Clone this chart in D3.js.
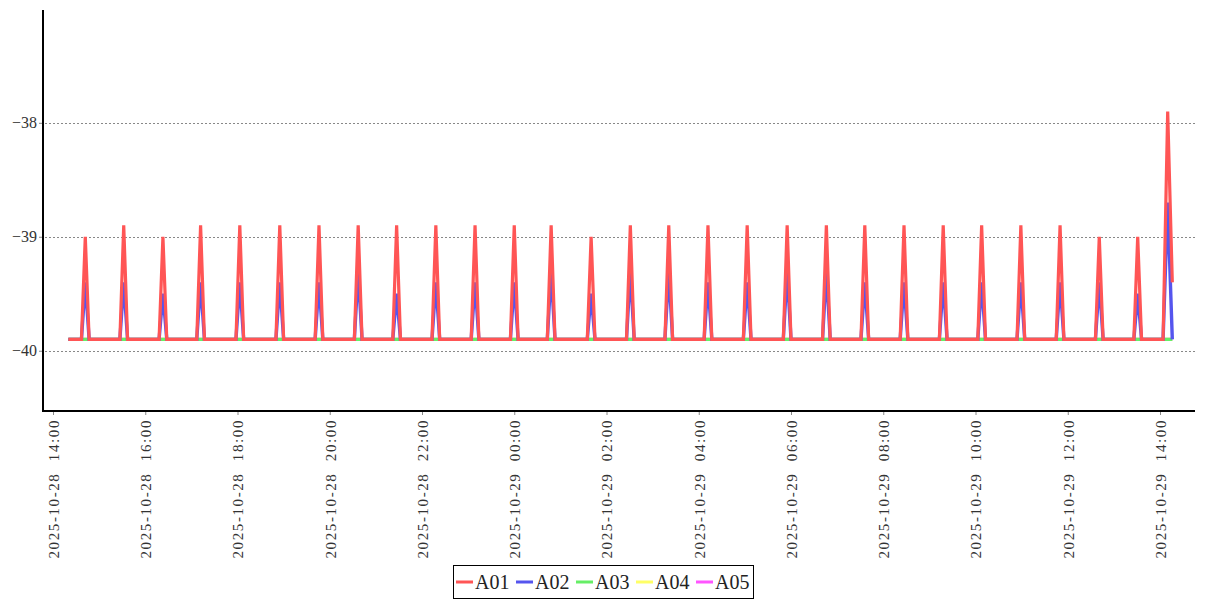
<!DOCTYPE html>
<html>
<head>
<meta charset="utf-8">
<script src="https://cdn.jsdelivr.net/npm/d3@7"></script>
<style>
    body { margin: 0; background: #fff; }
    svg { display: block; }
    .serif { font-family: "Liberation Serif", "DejaVu Serif", serif; }
</style>
</head>
<body>
<div id="chart"></div>
<script>

// sample times (one spike every ~50 min, base / peak / base)
const times = [
    "2025-10-28 14:20",
    "2025-10-28 14:37", "2025-10-28 14:42", "2025-10-28 14:47",
    "2025-10-28 15:27", "2025-10-28 15:32", "2025-10-28 15:37",
    "2025-10-28 16:18", "2025-10-28 16:23", "2025-10-28 16:28",
    "2025-10-28 17:07", "2025-10-28 17:12", "2025-10-28 17:17",
    "2025-10-28 17:58", "2025-10-28 18:03", "2025-10-28 18:08",
    "2025-10-28 18:50", "2025-10-28 18:55", "2025-10-28 19:00",
    "2025-10-28 19:41", "2025-10-28 19:46", "2025-10-28 19:51",
    "2025-10-28 20:32", "2025-10-28 20:37", "2025-10-28 20:42",
    "2025-10-28 21:22", "2025-10-28 21:27", "2025-10-28 21:32",
    "2025-10-28 22:13", "2025-10-28 22:18", "2025-10-28 22:23",
    "2025-10-28 23:04", "2025-10-28 23:09", "2025-10-28 23:14",
    "2025-10-28 23:55", "2025-10-29 00:00", "2025-10-29 00:05",
    "2025-10-29 00:43", "2025-10-29 00:48", "2025-10-29 00:53",
    "2025-10-29 01:35", "2025-10-29 01:40", "2025-10-29 01:45",
    "2025-10-29 02:26", "2025-10-29 02:31", "2025-10-29 02:36",
    "2025-10-29 03:16", "2025-10-29 03:21", "2025-10-29 03:26",
    "2025-10-29 04:07", "2025-10-29 04:12", "2025-10-29 04:17",
    "2025-10-29 04:58", "2025-10-29 05:03", "2025-10-29 05:08",
    "2025-10-29 05:50", "2025-10-29 05:55", "2025-10-29 06:00",
    "2025-10-29 06:41", "2025-10-29 06:46", "2025-10-29 06:51",
    "2025-10-29 07:31", "2025-10-29 07:36", "2025-10-29 07:41",
    "2025-10-29 08:22", "2025-10-29 08:27", "2025-10-29 08:32",
    "2025-10-29 09:13", "2025-10-29 09:18", "2025-10-29 09:23",
    "2025-10-29 10:03", "2025-10-29 10:08", "2025-10-29 10:13",
    "2025-10-29 10:54", "2025-10-29 10:59", "2025-10-29 11:04",
    "2025-10-29 11:45", "2025-10-29 11:50", "2025-10-29 11:55",
    "2025-10-29 12:36", "2025-10-29 12:41", "2025-10-29 12:46",
    "2025-10-29 13:26", "2025-10-29 13:31", "2025-10-29 13:36",
    "2025-10-29 14:04", "2025-10-29 14:10", "2025-10-29 14:16"
]

const A01 = [
    -39.9,
    -39.9, -39.0, -39.9,
    -39.9, -38.9, -39.9,
    -39.9, -39.0, -39.9,
    -39.9, -38.9, -39.9,
    -39.9, -38.9, -39.9,
    -39.9, -38.9, -39.9,
    -39.9, -38.9, -39.9,
    -39.9, -38.9, -39.9,
    -39.9, -38.9, -39.9,
    -39.9, -38.9, -39.9,
    -39.9, -38.9, -39.9,
    -39.9, -38.9, -39.9,
    -39.9, -38.9, -39.9,
    -39.9, -39.0, -39.9,
    -39.9, -38.9, -39.9,
    -39.9, -38.9, -39.9,
    -39.9, -38.9, -39.9,
    -39.9, -38.9, -39.9,
    -39.9, -38.9, -39.9,
    -39.9, -38.9, -39.9,
    -39.9, -38.9, -39.9,
    -39.9, -38.9, -39.9,
    -39.9, -38.9, -39.9,
    -39.9, -38.9, -39.9,
    -39.9, -38.9, -39.9,
    -39.9, -38.9, -39.9,
    -39.9, -39.0, -39.9,
    -39.9, -39.0, -39.9,
    -39.9, -37.9, -39.4
]

const A02 = [
    -39.9,
    -39.9, -39.4, -39.9,
    -39.9, -39.4, -39.9,
    -39.9, -39.5, -39.9,
    -39.9, -39.4, -39.9,
    -39.9, -39.4, -39.9,
    -39.9, -39.4, -39.9,
    -39.9, -39.4, -39.9,
    -39.9, -39.3, -39.9,
    -39.9, -39.5, -39.9,
    -39.9, -39.4, -39.9,
    -39.9, -39.4, -39.9,
    -39.9, -39.4, -39.9,
    -39.9, -39.3, -39.9,
    -39.9, -39.5, -39.9,
    -39.9, -39.3, -39.9,
    -39.9, -39.3, -39.9,
    -39.9, -39.4, -39.9,
    -39.9, -39.4, -39.9,
    -39.9, -39.3, -39.9,
    -39.9, -39.3, -39.9,
    -39.9, -39.4, -39.9,
    -39.9, -39.4, -39.9,
    -39.9, -39.4, -39.9,
    -39.9, -39.4, -39.9,
    -39.9, -39.4, -39.9,
    -39.9, -39.4, -39.9,
    -39.9, -39.4, -39.9,
    -39.9, -39.5, -39.9,
    -39.9, -38.7, -39.9
]

// A03..A05 stay flat over the whole window
const flatTimes = ["2025-10-28 14:20", "2025-10-29 14:16"]
const A03 = [-39.9, -39.9]
const A04 = [-39.9, -39.9]
const A05 = [-39.9, -39.9]

const seriesNames = ["A01", "A02", "A03", "A04", "A05"]
const colours = ["#ff5555", "#5555ee", "#66ee66", "#ffff66", "#ff55ff"]
const yTicks = [-40, -39, -38]

const width = 1207
const height = 600
const plot = { left: 43, right: 1195, top: 10, bottom: 410 }

const parse = d3.timeParse("%Y-%m-%d %H:%M")
const fmt = d3.timeFormat("%Y-%m-%d %H:%M")

const series = [
    { name: "A01", t: times, v: A01 },
    { name: "A02", t: times, v: A02 },
    { name: "A03", t: flatTimes, v: A03 },
    { name: "A04", t: flatTimes, v: A04 },
    { name: "A05", t: flatTimes, v: A05 }
].map((s, i) => ({
    name: s.name,
    colour: colours[i],
    points: s.t.map((d, j) => ({ date: parse(d), value: s.v[j] }))
}))

const svg = d3.select("#chart")
    .append("svg")
    .attr("width", width)
    .attr("height", height)

let x = d3.scaleTime()
    .domain([parse("2025-10-28 14:00"), parse("2025-10-29 14:00")])
    .range([53, 1160])

let y = d3.scaleLinear()
    .domain([-40.52, -37.01])
    .range([plot.bottom, plot.top])

// dotted grid lines
svg.append("g")
    .selectAll("line")
    .data(yTicks)
    .join("line")
    .attr("x1", plot.left + 2)
    .attr("x2", plot.right)
    .attr("y1", d => Math.round(y(d)) + 0.5)
    .attr("y2", d => Math.round(y(d)) + 0.5)
    .attr("stroke", "#888")
    .attr("stroke-dasharray", "2,2")

// lines, last series drawn first so A01 ends on top
let line = d3.line()
    .x(d => x(d.date))
    .y(d => y(d.value))

svg.append("g")
    .selectAll("path")
    .data(series.slice().reverse())
    .join("path")
    .attr("d", d => line(d.points))
    .attr("fill", "none")
    .attr("stroke", d => d.colour)
    .attr("stroke-width", d => d.name == "A02" ? 3.4 : 3.2)
    .attr("stroke-linejoin", "miter")

// y axis
let yAxis = svg.append("g")
    .attr("transform", "translate(" + plot.left + ",0)")
    .call(d3.axisLeft(y)
        .tickValues(yTicks)
        .tickFormat(d3.format("d"))
        .tickSize(4)
        .tickSizeOuter(0))
yAxis.attr("font-family", null)
yAxis.select(".domain").remove()
yAxis.selectAll(".tick line").attr("stroke", "#888")
yAxis.selectAll(".tick text")
    .attr("class", "serif")
    .attr("x", -6)
    .attr("fill", "#333")
    .style("font-size", "16px")

// x axis
let xAxis = svg.append("g")
    .attr("transform", "translate(0," + (plot.bottom + 1) + ")")
    .call(d3.axisBottom(x)
        .ticks(d3.timeHour.every(2))
        .tickFormat(fmt)
        .tickSize(4)
        .tickSizeOuter(0))
xAxis.attr("font-family", null)
xAxis.select(".domain").remove()
xAxis.selectAll(".tick line").attr("stroke", "#888")
xAxis.selectAll(".tick text")
    .attr("class", "serif")
    .attr("transform", "translate(0,8)rotate(-90)")
    .attr("x", 0)
    .attr("y", 0)
    .attr("dy", "0.35em")
    .attr("text-anchor", "end")
    .attr("fill", "#333")
    .style("font-size", "15px")
    .style("letter-spacing", "1.6px")
    .style("word-spacing", "6px")

// axis lines
svg.append("line")
    .attr("x1", plot.left).attr("x2", plot.left)
    .attr("y1", plot.top).attr("y2", plot.bottom + 2)
    .attr("stroke", "black")
    .attr("stroke-width", 2)

svg.append("line")
    .attr("x1", plot.left).attr("x2", plot.right)
    .attr("y1", plot.bottom + 1).attr("y2", plot.bottom + 1)
    .attr("stroke", "black")
    .attr("stroke-width", 2)

// legend
let legend = svg.append("g")
    .attr("transform", "translate(453,565)")

legend.append("rect")
    .attr("x", 0.5)
    .attr("y", 0.5)
    .attr("width", 300)
    .attr("height", 33)
    .attr("fill", "white")
    .attr("stroke", "black")

let item = legend.selectAll(".item")
    .data(series)
    .join("g")
    .attr("class", "item")
    .attr("transform", (d, i) => "translate(" + (3 + i * 60) + ",0)")

item.append("line")
    .attr("x1", 0)
    .attr("x2", 17)
    .attr("y1", 17)
    .attr("y2", 17)
    .attr("stroke", d => d.colour)
    .attr("stroke-width", 3)

item.append("text")
    .attr("class", "serif")
    .attr("x", 19)
    .attr("y", 24)
    .attr("fill", "#222")
    .style("font-size", "20px")
    .text(d => d.name)

</script>
</body>
</html>
